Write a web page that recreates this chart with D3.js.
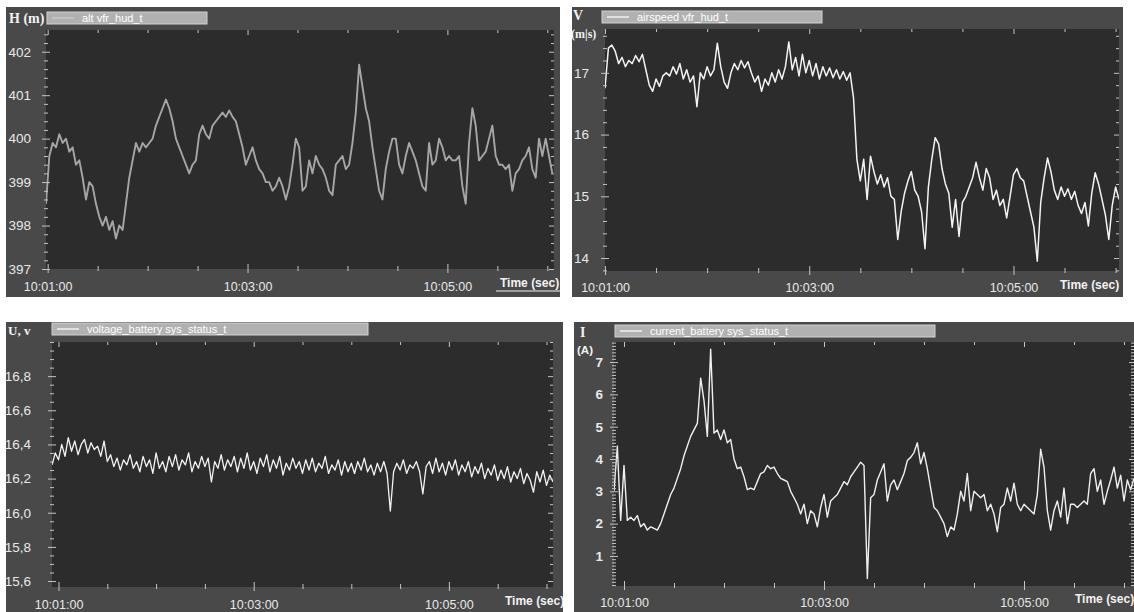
<!DOCTYPE html>
<html>
<head>
<meta charset="utf-8">
<script src="https://cdn.jsdelivr.net/npm/d3@7"></script>
<style>
  body { margin: 0; background: #ffffff; }
  svg { display: block; }
  text { font-family: "Liberation Sans", Arial, sans-serif; }
</style>
</head>
<body>
<svg id="chart" width="1134" height="612"></svg>
<script>
// x axis labels, shared by all four panels
const timeLabels = ["10:01:00", "10:03:00", "10:05:00"];
const sampleStep = 2; // seconds between samples

// altitude H (m), samples from 10:00:59
const altStart = "10:00:59";
const altTicks = [397, 398, 399, 400, 401, 402];
const altValues = [
  398.5, 399.6, 399.9, 399.8, 400.1, 399.9, 400.0, 399.7, 399.8, 399.4,
  399.5, 399.1, 398.6, 399.0, 398.9, 398.5, 398.2, 398.0, 398.2, 397.9,
  398.1, 397.7, 398.0, 397.9, 398.5, 399.1, 399.5, 399.9, 399.7, 399.9,
  399.8, 399.9, 400.0, 400.3, 400.5, 400.7, 400.9, 400.7, 400.4, 400.0,
  399.8, 399.6, 399.4, 399.2, 399.4, 399.5, 400.1, 400.3, 400.1, 400.0,
  400.3, 400.4, 400.5, 400.6, 400.5, 400.65, 400.5, 400.4, 400.1, 399.8,
  399.4, 399.6, 399.8, 399.5, 399.3, 399.2, 399.0, 399.0, 398.8, 398.9,
  399.1, 398.9, 398.6, 398.9, 399.4, 400.0, 399.8, 398.8, 398.9, 399.5,
  399.2, 399.6, 399.4, 399.3, 399.1, 398.8, 398.7, 399.4, 399.5, 399.6,
  399.3, 399.4, 399.9, 400.6, 401.7, 401.2, 400.7, 400.4, 399.8, 399.3,
  398.8, 398.6, 399.3, 399.7, 400.0, 400.0, 399.4, 399.2, 399.6, 399.9,
  399.7, 399.5, 399.2, 398.9, 398.8, 399.9, 399.4, 399.5, 400.0, 399.8,
  399.5, 399.6, 399.5, 399.5, 399.6, 398.9, 398.5, 399.9, 400.7, 400.3,
  399.5, 399.6, 399.7, 400.0, 400.3, 399.6, 399.4, 399.4, 399.3, 399.4,
  398.8, 399.2, 399.3, 399.5, 399.6, 399.8, 399.3, 399.1, 400.0, 399.6,
  400.0, 399.6, 399.2
];

// airspeed V (m/s), samples from 10:01:00
const speedStart = "10:01:00";
const speedTicks = [14, 15, 16, 17];
const speedValues = [
  16.75, 17.4, 17.45, 17.35, 17.15, 17.25, 17.1, 17.2, 17.15, 17.28,
  17.18, 17.3, 17.05, 16.8, 16.7, 16.9, 16.78, 16.95, 17.0, 16.95,
  17.1, 16.98, 17.15, 16.9, 17.05, 16.85, 16.95, 16.45, 17.0, 16.9,
  17.1, 16.95, 17.05, 17.48, 17.1, 16.85, 16.75, 17.0, 17.15, 17.05,
  17.2, 17.08, 17.18, 17.0, 16.85, 16.95, 16.7, 16.9, 16.8, 17.0,
  16.85, 17.05, 16.9, 17.1, 17.5, 17.05, 17.25, 16.95, 17.3, 17.0,
  17.2, 16.95, 17.15, 16.9, 17.1, 16.95, 17.08, 16.92, 17.05, 16.9,
  17.02, 16.88, 17.0, 16.6, 15.6, 15.25, 15.6, 14.95, 15.65, 15.4,
  15.2, 15.35, 15.15, 15.3, 15.0, 14.95, 14.3, 14.75, 15.05, 15.25,
  15.4, 15.1, 15.0, 14.75, 14.15, 15.15, 15.6, 15.95, 15.85, 15.45,
  15.2, 15.05, 14.5, 14.95, 14.35, 14.9, 15.0, 15.15, 15.3, 15.55,
  15.3, 15.1, 15.45, 15.3, 14.95, 15.1, 14.85, 14.95, 14.65, 15.0,
  15.35, 15.45, 15.3, 15.25, 15.0, 14.75, 14.5, 13.95, 14.9, 15.3,
  15.62, 15.4, 15.1, 14.95, 15.15, 15.0, 15.12, 14.95, 15.08, 14.85,
  14.72, 14.9, 14.52, 15.05, 15.38, 15.2, 14.95, 14.7, 14.3, 14.85,
  15.15, 14.95
];

// battery voltage U (V), samples from 10:00:56
const voltStart = "10:00:56";
const voltTicks = [15.6, 15.8, 16.0, 16.2, 16.4, 16.6, 16.8];
const voltValues = [
  16.28, 16.35, 16.31, 16.4, 16.33, 16.44, 16.36, 16.42, 16.34, 16.4,
  16.43, 16.35, 16.41, 16.37, 16.39, 16.33, 16.42, 16.3, 16.34, 16.27,
  16.32, 16.25, 16.31, 16.28, 16.34, 16.26, 16.3, 16.24, 16.33, 16.27,
  16.31, 16.23, 16.35, 16.26, 16.3, 16.24, 16.33, 16.27, 16.34, 16.25,
  16.31, 16.28, 16.35, 16.24, 16.3, 16.26, 16.33, 16.27, 16.32, 16.18,
  16.3, 16.26, 16.34, 16.25, 16.31, 16.27, 16.33, 16.24, 16.32, 16.26,
  16.35, 16.25, 16.3, 16.23, 16.32, 16.27, 16.34, 16.24, 16.31, 16.26,
  16.33, 16.22, 16.29, 16.25, 16.32, 16.26, 16.3, 16.23, 16.31, 16.25,
  16.32, 16.24, 16.29, 16.26, 16.33, 16.23, 16.28, 16.25, 16.31, 16.22,
  16.3, 16.24, 16.29, 16.23, 16.3, 16.25, 16.32, 16.24, 16.28, 16.22,
  16.29, 16.24, 16.3, 16.23, 16.01, 16.24, 16.29, 16.25, 16.31, 16.23,
  16.28, 16.26, 16.3, 16.24, 16.11, 16.27, 16.3, 16.23, 16.32, 16.24,
  16.29, 16.22, 16.3, 16.25, 16.31, 16.22, 16.28, 16.24, 16.3, 16.21,
  16.27, 16.23, 16.29, 16.2, 16.26, 16.22, 16.28, 16.19, 16.25, 16.2,
  16.27, 16.18, 16.24, 16.2, 16.26, 16.17, 16.23, 16.19, 16.12, 16.24,
  16.18, 16.25, 16.16, 16.22, 16.18
];

// battery current I (A), samples from 10:00:54
const currentStart = "10:00:54";
const currentTicks = [1, 2, 3, 4, 5, 6, 7];
const currentValues = [
  3.0, 4.4, 2.1, 3.8, 2.1, 2.2, 2.1, 2.25, 1.9, 2.0,
  1.8, 1.9, 1.85, 1.8, 2.0, 2.3, 2.6, 2.9, 3.1, 3.4,
  3.7, 4.1, 4.4, 4.7, 4.9, 5.1, 6.5, 5.8, 4.7, 7.4,
  4.8, 4.9, 4.6, 4.9, 4.5, 4.6, 4.0, 3.7, 3.75, 3.45,
  3.05, 3.1, 3.05, 3.3, 3.55, 3.6, 3.8, 3.7, 3.75, 3.55,
  3.4, 3.35, 3.3, 3.0, 2.8, 2.6, 2.3, 2.6, 2.0, 2.4,
  2.3, 1.9, 2.5, 2.9, 2.2, 2.7, 2.8, 2.9, 3.1, 3.3,
  3.2, 3.45, 3.6, 3.75, 3.9, 3.8, 0.3, 2.8, 2.9, 3.35,
  3.6, 3.85, 2.7, 3.2, 3.35, 3.05, 3.3, 3.55, 3.95, 4.05,
  4.2, 4.5, 3.85, 4.2, 3.7, 3.1, 2.5, 2.4, 2.2, 2.0,
  1.6, 1.9, 1.8, 2.3, 3.0, 2.7, 3.55, 2.4, 3.0, 2.9,
  2.8, 2.9, 2.4, 2.6, 2.3, 1.75, 2.5, 2.6, 3.1, 2.7,
  3.25, 2.6, 2.4, 2.6, 2.5, 2.4, 2.3, 2.9, 4.3, 3.75,
  2.4, 1.8, 2.4, 2.7, 2.2, 3.1, 2.0, 2.6, 2.6, 2.5,
  2.6, 2.7, 2.6, 3.55, 3.7, 3.0, 3.35, 2.6, 3.0, 3.35,
  3.75, 3.1, 3.5, 2.7, 3.35, 3.05, 3.4
];

const parseTime = d3.timeParse("%H:%M:%S");
const commaFormat = d3.formatLocale({decimal: ",", thousands: " ", grouping: [3], currency: ["", ""]}).format(".1f");

const svg = d3.select("#chart");
const defs = svg.append("defs");

const panels = [
  {
    id: "alt",
    frame: {x: 6, y: 7, w: 554, h: 290},
    plot: {x: 46, y: 30, w: 508, h: 239},
    xDomain: ["10:00:59", "10:06:04"],
    yDomain: [397, 402.5],
    yTicks: altTicks, yMinorStep: 0.2, yFormat: d3.format("d"),
    start: altStart, values: altValues,
    lineColor: "#a6a6a6", lineWidth: 1.9,
    titles: [{text: "H (m)", x: 9, y: 23, size: 14, serif: true}],
    legend: {x: 47, y: 12, w: 160, h: 12, text: "alt vfr_hud_t", sample: "#cdcdcd"},
    yLabelRight: 31, yLabelBold: false,
    xLabelBaseline: 291,
    timeLabel: {x: 500, y: 287, underline: true}
  },
  {
    id: "speed",
    frame: {x: 572, y: 7, w: 551, h: 290},
    plot: {x: 605, y: 29, w: 514, h: 242},
    xDomain: ["10:01:00", "10:06:02"],
    yDomain: [13.79, 17.71],
    yTicks: speedTicks, yMinorStep: 0.2, yFormat: d3.format("d"),
    start: speedStart, values: speedValues,
    lineColor: "#f4f4f4", lineWidth: 1.5,
    titles: [
      {text: "V", x: 573, y: 20, size: 14, serif: true},
      {text: "(m|s)", x: 571, y: 38, size: 12, serif: true}
    ],
    legend: {x: 602, y: 11, w: 220, h: 12, text: "airspeed vfr_hud_t", sample: "#ffffff"},
    yLabelRight: 589, yLabelBold: false,
    xLabelBaseline: 292,
    timeLabel: {x: 1060, y: 289, underline: false}
  },
  {
    id: "volt",
    frame: {x: 6, y: 322, w: 557, h: 290},
    plot: {x: 52, y: 342, w: 501, h: 245},
    xDomain: ["10:00:56", "10:06:04"],
    yDomain: [15.565, 17.0],
    yTicks: voltTicks, yMinorStep: 0.05, yFormat: commaFormat,
    start: voltStart, values: voltValues,
    lineColor: "#f4f4f4", lineWidth: 1.3,
    titles: [{text: "U, v", x: 8, y: 335, size: 13, serif: true}],
    legend: {x: 52, y: 323, w: 316, h: 12, text: "voltage_battery sys_status_t", sample: "#ffffff"},
    yLabelRight: 31, yLabelBold: false,
    xLabelBaseline: 609,
    timeLabel: {x: 505, y: 605, underline: false}
  },
  {
    id: "current",
    frame: {x: 574, y: 322, w: 560, h: 290},
    plot: {x: 614, y: 342, w: 520, h: 244},
    xDomain: ["10:00:54", "10:06:06"],
    yDomain: [0.07, 7.62],
    yTicks: currentTicks, yMinorStep: 0.1, yFormat: d3.format("d"),
    start: currentStart, values: currentValues,
    lineColor: "#f0f0f0", lineWidth: 1.4,
    titles: [
      {text: "I", x: 580, y: 337, size: 14, serif: true},
      {text: "(A)", x: 577, y: 354, size: 11.5, serif: false}
    ],
    legend: {x: 615, y: 325, w: 320, h: 12, text: "current_battery sys_status_t", sample: "#ffffff"},
    yLabelRight: 603, yLabelBold: true,
    xLabelBaseline: 607,
    timeLabel: {x: 1075, y: 603, underline: false}
  }
];

panels.forEach(drawPanel);

function drawPanel(p) {
  const f = p.frame, pl = p.plot;
  const left = pl.x, right = pl.x + pl.w, top = pl.y, bottom = pl.y + pl.h;

  defs.append("clipPath").attr("id", "frame-" + p.id)
    .append("rect").attr("x", f.x).attr("y", f.y).attr("width", f.w).attr("height", f.h);
  defs.append("clipPath").attr("id", "plot-" + p.id)
    .append("rect").attr("x", left).attr("y", top).attr("width", pl.w).attr("height", pl.h);

  const g = svg.append("g").attr("clip-path", `url(#frame-${p.id})`);

  g.append("rect").attr("x", f.x).attr("y", f.y).attr("width", f.w).attr("height", f.h)
    .attr("fill", "#494949");
  g.append("rect").attr("x", left).attr("y", top).attr("width", pl.w).attr("height", pl.h)
    .attr("fill", "#2c2c2c");

  const x = d3.scaleTime()
    .domain(p.xDomain.map(parseTime))
    .range([left, right]);
  const y = d3.scaleLinear()
    .domain(p.yDomain)
    .range([bottom, top]);

  // series
  const t0 = parseTime(p.start);
  const points = p.values.map((v, i) => [new Date(+t0 + i * sampleStep * 1000), v]);
  const line = d3.line().x(d => x(d[0])).y(d => y(d[1]));
  g.append("path")
    .datum(points)
    .attr("clip-path", `url(#plot-${p.id})`)
    .attr("d", line)
    .attr("fill", "none")
    .attr("stroke", p.lineColor)
    .attr("stroke-width", p.lineWidth)
    .attr("stroke-linejoin", "round");

  // ticks
  const majorX = timeLabels.map(parseTime);
  const minorX = d3.timeSecond.every(30).range(x.domain()[0], x.domain()[1])
    .filter(d => d.getSeconds() === 30 || d.getMinutes() % 2 === 0);
  const yLo = Math.ceil(p.yDomain[0] / p.yMinorStep - 1e-6);
  const yHi = Math.floor(p.yDomain[1] / p.yMinorStep + 1e-6);
  const minorY = d3.range(yLo, yHi + 1).map(k => +(k * p.yMinorStep).toFixed(3))
    .filter(v => !p.yTicks.some(t => Math.abs(t - v) < 1e-6));

  const tickStyle = sel => {
    sel.select(".domain").remove();
    sel.selectAll("text").remove();
    sel.selectAll("line").attr("stroke", "#c4c4c4");
  };

  // bottom edge, crossing the border
  g.append("g").attr("transform", `translate(0,${bottom + 4})`)
    .call(d3.axisTop(x).tickValues(majorX).tickSize(9)).call(tickStyle);
  g.append("g").attr("transform", `translate(0,${bottom + 2})`)
    .call(d3.axisTop(x).tickValues(minorX).tickSize(5)).call(tickStyle);
  // top edge, inside
  g.append("g").attr("transform", `translate(0,${top})`)
    .call(d3.axisBottom(x).tickValues(majorX).tickSize(5)).call(tickStyle);
  g.append("g").attr("transform", `translate(0,${top})`)
    .call(d3.axisBottom(x).tickValues(minorX).tickSize(3)).call(tickStyle);
  // left edge, crossing the border
  g.append("g").attr("transform", `translate(${left - 4},0)`)
    .call(d3.axisRight(y).tickValues(p.yTicks).tickSize(8)).call(tickStyle);
  g.append("g").attr("transform", `translate(${left - 2},0)`)
    .call(d3.axisRight(y).tickValues(minorY).tickSize(4)).call(tickStyle);
  // right edge, inside
  g.append("g").attr("transform", `translate(${right},0)`)
    .call(d3.axisLeft(y).tickValues(p.yTicks).tickSize(5)).call(tickStyle);
  g.append("g").attr("transform", `translate(${right},0)`)
    .call(d3.axisLeft(y).tickValues(minorY).tickSize(3)).call(tickStyle);

  // labels
  const xLab = g.append("g").attr("transform", `translate(0,${bottom})`)
    .call(d3.axisBottom(x).tickValues(majorX).tickSize(0).tickFormat(d3.timeFormat("%H:%M:%S")));
  xLab.select(".domain").remove();
  xLab.selectAll("text")
    .attr("y", p.xLabelBaseline - bottom).attr("dy", null)
    .attr("fill", "#e8e8e8")
    .style("font-size", "12.5px");

  const yLab = g.append("g").attr("transform", `translate(${p.yLabelRight},0)`)
    .call(d3.axisLeft(y).tickValues(p.yTicks).tickSize(0).tickPadding(0).tickFormat(p.yFormat));
  yLab.select(".domain").remove();
  yLab.selectAll("text")
    .attr("fill", "#e8e8e8")
    .style("font-size", "13.5px")
    .style("font-weight", p.yLabelBold ? "bold" : "normal");

  // titles
  p.titles.forEach(t => {
    g.append("text")
      .attr("x", t.x).attr("y", t.y)
      .attr("fill", "#f2f2f2")
      .style("font-family", t.serif ? "'Liberation Serif', 'Times New Roman', serif" : "'Liberation Sans', Arial, sans-serif")
      .style("font-weight", "bold")
      .style("font-size", t.size + "px")
      .text(t.text);
  });

  // legend box
  const lg = p.legend;
  g.append("rect")
    .attr("x", lg.x).attr("y", lg.y).attr("width", lg.w).attr("height", lg.h)
    .attr("fill", "#b1b1b1").attr("stroke", "#d2d2d2").attr("stroke-width", 1);
  g.append("line")
    .attr("x1", lg.x + 5).attr("x2", lg.x + 27)
    .attr("y1", lg.y + lg.h / 2).attr("y2", lg.y + lg.h / 2)
    .attr("stroke", lg.sample).attr("stroke-width", 1.2);
  g.append("text")
    .attr("x", lg.x + 35).attr("y", lg.y + lg.h - 2)
    .attr("fill", "#ffffff")
    .style("font-size", "11px")
    .text(lg.text);

  // time axis title
  const tl = p.timeLabel;
  g.append("text")
    .attr("x", tl.x).attr("y", tl.y)
    .attr("fill", "#f2f2f2")
    .style("font-size", "12px")
    .style("font-weight", "bold")
    .text("Time (sec)");
  if (tl.underline) {
    g.append("line")
      .attr("x1", tl.x - 4).attr("x2", f.x + f.w)
      .attr("y1", tl.y + 4).attr("y2", tl.y + 4)
      .attr("stroke", "#f2f2f2").attr("stroke-width", 1);
  }
}
</script>
</body>
</html>
